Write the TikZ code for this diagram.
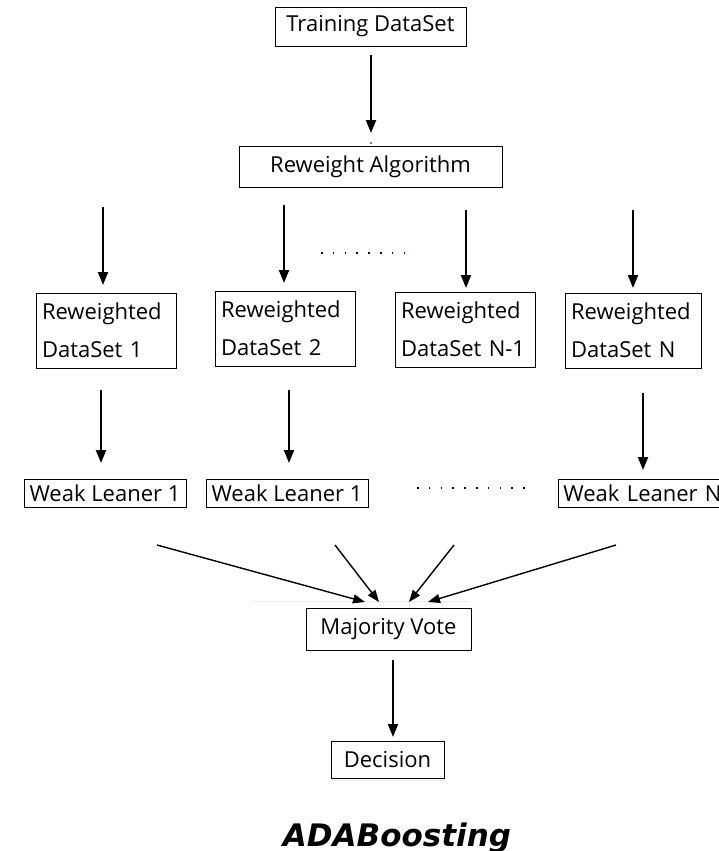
\documentclass[tikz,border=0pt]{standalone}
\usepackage{fontspec}
\setmainfont{Open Sans}
\newfontfamily\titlefont{DejaVu Sans}
\usetikzlibrary{arrows.meta}
\begin{document}
\begin{tikzpicture}[x=1pt,y=-1pt,
  box/.style={draw,line width=0.9pt,inner sep=0pt,font=\fontsize{22}{26}\selectfont},
  dbox/.style={box,align=left,text width=128pt,minimum width=140pt,minimum height=75pt},
  arr/.style={line width=2.1pt,-{Triangle[width=10pt,length=13pt]}},
  thin arr/.style={line width=1.4pt,-{Triangle[width=9pt,length=12pt]}},
  dotsline/.style={line width=1.6pt,dash pattern=on 1.6pt off 10.2pt,line cap=butt}]
\useasboundingbox (0,0) rectangle (719,851);
% top
\node[box,minimum width=191pt,minimum height=39pt] (train) at (370.5,26.5) {Training DataSet};
\node[box,minimum width=263pt,minimum height=41pt] (rew) at (370.5,166.5) {Reweight Algorithm};
\coordinate (a0s) at (371,55); \coordinate (a0e) at (371,133);
\draw[arr] (a0s) -- (a0e);
\fill (371,143) circle (0.8pt);
% reweighted datasets
\node[dbox] (d1) at (106,330.5) {Reweighted\\[12pt]DataSet 1};
\node[dbox] (d2) at (285,328.5) {Reweighted\\[12pt]DataSet 2};
\node[dbox] (d3) at (465,329.5) {Reweighted\\[12pt]DataSet N-1};
\node[dbox,minimum width=136pt,text width=124pt] (d4) at (633,330.5) {Reweighted\\[12pt]DataSet N};
\coordinate (b1s) at (103,207); \coordinate (b1e) at (103,285);
\coordinate (b2s) at (284,205); \coordinate (b2e) at (284,283);
\coordinate (b3s) at (466,210); \coordinate (b3e) at (466,288);
\coordinate (b4s) at (633,210); \coordinate (b4e) at (633,288);
\foreach \i in {1,2,3,4} \draw[arr] (b\i s) -- (b\i e);
\coordinate (dot1s) at (321,253); \coordinate (dot1e) at (406,253);
\draw[dotsline,blue!45!black] (dot1s) -- (dot1e);
% weak learners
\node[box,minimum width=162pt,minimum height=28pt] (w1) at (105,493) {Weak Leaner 1};
\node[box,minimum width=162pt,minimum height=28pt] (w2) at (287,493) {Weak Leaner 1};
\node[box,minimum width=175pt,minimum height=28pt,anchor=west,text width=165pt,align=left] (w3) at (558,493) {Weak Leaner N};
\coordinate (c1s) at (101,390); \coordinate (c1e) at (101,463);
\coordinate (c2s) at (289,390); \coordinate (c2e) at (289,463);
\coordinate (c3s) at (643,393); \coordinate (c3e) at (643,470);
\foreach \i in {1,2,3} \draw[arr] (c\i s) -- (c\i e);
\coordinate (dot2s) at (417,488); \coordinate (dot2e) at (526,488);
\draw[dotsline] (dot2s) -- (dot2e);
% converging
\coordinate (e1s) at (157,545); \coordinate (e1e) at (365,602);
\coordinate (e2s) at (335,545); \coordinate (e2e) at (379,602);
\coordinate (e3s) at (454,545); \coordinate (e3e) at (409,602);
\coordinate (e4s) at (616,545); \coordinate (e4e) at (428,602);
\draw[black!8,line width=1pt] (252,601) -- (470,601);
\foreach \i in {1,2,3,4} \draw[thin arr] (e\i s) -- (e\i e);
% bottom
\node[box,minimum width=165pt,minimum height=42pt] (mv) at (388.5,629) {Majority Vote};
\node[box,minimum width=113pt,minimum height=37pt] (dec) at (387.5,759.5) {Decision};
\coordinate (fs) at (393,660); \coordinate (fe) at (393,737);
\draw[arr] (fs) -- (fe);
\draw[black!8,line width=1pt] (330,780) -- (445,780);
\node[font=\titlefont\fontsize{31}{36}\selectfont\bfseries\itshape,anchor=base,inner sep=0pt] (title) at (397,846) {ADABoosting};
\end{tikzpicture}
\end{document}
